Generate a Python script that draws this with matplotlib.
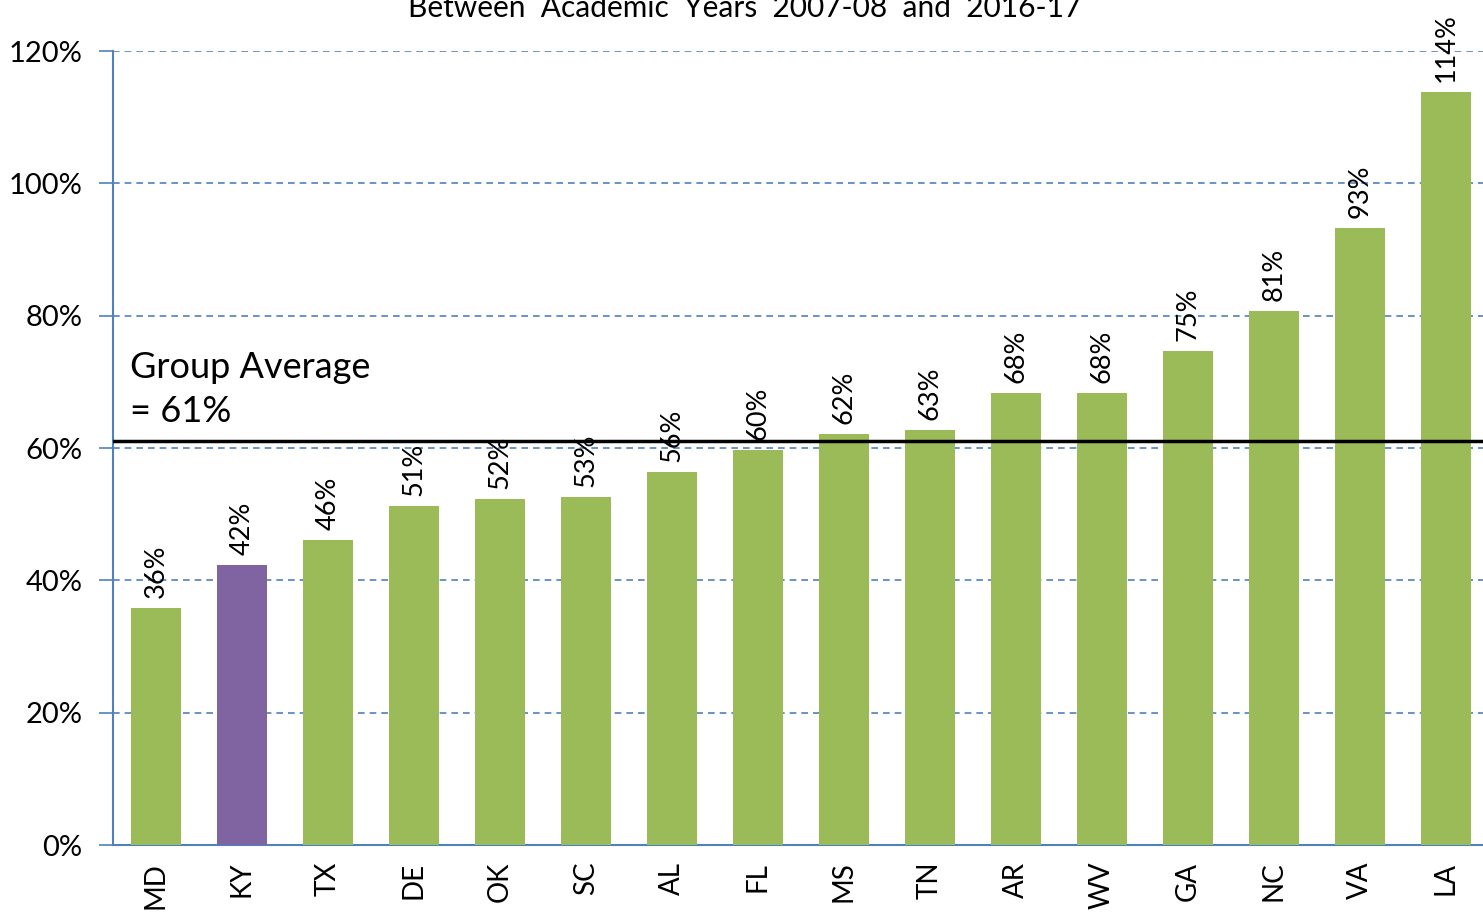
import numpy as np
import matplotlib.pyplot as plt

states = ["MD", "KY", "TX", "DE", "OK", "SC", "AL", "FL", "MS", "TN", "AR", "WV", "GA", "NC", "VA", "LA"]
values = [35.8, 42.3, 46.1, 51.2, 52.3, 52.6, 56.4, 59.7, 62.1, 62.7, 68.3, 68.3, 74.7, 80.7, 93.2, 113.8]
labels = ["36%", "42%", "46%", "51%", "52%", "53%", "56%", "60%", "62%", "63%", "68%", "68%", "75%", "81%", "93%", "114%"]
group_avg = 61.0
highlight = "KY"

plt.rcParams['font.family'] = ['Lato', 'DejaVu Sans']

fig = plt.figure(figsize=(14.83, 9.13), dpi=100)
W, H = 1483, 913
ax = fig.add_axes([113/W, 1-845/H, (1489-113)/W, (845-51)/H])

x = np.arange(len(states))
colors = ["#8064A2" if s == highlight else "#9BBB59" for s in states]
ax.bar(x, values, width=0.58, color=colors, zorder=3)

for xi, v, lab in zip(x, values, labels):
	ax.text(xi, v+1.5, lab, rotation=90, ha="center", va="bottom", fontsize=19.5, zorder=4)

ax.axhline(group_avg, color="black", lw=2.5, zorder=5)
ax.text(-0.3, 63.0, "Group Average\n= 61%", fontsize=26, ha="left", va="bottom", linespacing=1.4)

ax.set_xlim(-0.5, len(states)-0.5)
ax.set_ylim(0, 120)
ax.set_yticks(np.arange(0, 121, 20))
ax.set_yticklabels([f"{t}%" for t in range(0, 121, 20)], fontsize=21)
ax.set_xticks(x)
ax.set_xticklabels(states, rotation=90, fontsize=20)
ax.tick_params(axis="x", length=0, pad=12)
ax.tick_params(axis="y", length=10, color="#4F81BD", width=1.2, pad=12)
ax.grid(axis="y", color="#4F81BD", linestyle=(0, (4, 3)), lw=1.2, zorder=0)

for s in ["top", "right"]:
	ax.spines[s].set_visible(False)
for s in ["left", "bottom"]:
	ax.spines[s].set_color("#4F81BD")
	ax.spines[s].set_linewidth(1.5)

fig.text(745/W, 1-8/H, "Between  Academic  Years  2007-08  and  2016-17", ha="center", va="center", fontsize=21.5)

fig.savefig("out.png", dpi=100)
